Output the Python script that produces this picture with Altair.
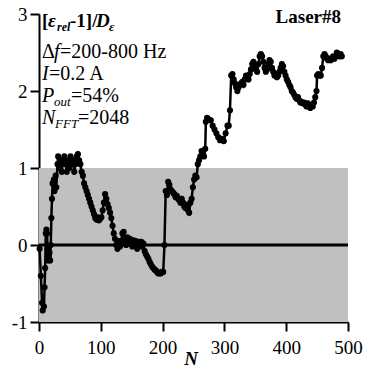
import altair as alt
import pandas as pd

N_vals = [1, 3, 5, 6, 8, 9, 10, 11, 12, 13, 14, 15, 16, 17, 18, 19, 20, 21, 22, 24, 25, 27, 28,
          30, 31, 33, 35, 37, 39, 41, 43, 45, 47, 49, 51, 53, 55, 57, 59, 61, 63, 65, 67, 69,
          71, 73, 75, 77, 79, 81, 83, 85, 87, 89, 91, 93, 95, 97, 99, 101, 103, 105, 107, 109,
          111, 113, 115, 117, 119, 121, 123, 125, 127, 129, 131, 133, 135, 137, 139, 141, 143,
          145, 147, 149, 151, 153, 155, 157, 159, 161, 163, 165, 167, 169, 171, 173, 175, 177,
          179, 181, 183, 185, 187, 189, 191, 193, 195, 197, 199, 201, 203,
          205, 207, 209, 211, 213, 215, 217, 219, 221, 223, 225, 227, 229, 231, 233, 235, 237,
          239, 241, 243, 245, 247, 249, 251, 253, 255, 257, 259, 261, 263, 265, 267, 269, 270,
          272, 275, 278, 281, 284, 287, 290, 293, 296, 299, 302, 305, 307, 309, 311, 313, 315,
          317, 319, 321, 323, 325, 327, 329, 331, 333, 335, 337, 339, 341, 343, 345, 347, 349,
          351, 353, 355, 357, 359, 361, 363, 365, 367, 369, 371, 373, 375, 377, 379, 381, 383,
          385, 387, 389, 391, 393, 395, 397, 399, 401, 403, 405, 407, 409, 411, 413, 415, 417,
          419, 421, 423, 425, 427, 429, 431, 433, 435, 437, 439, 441, 443, 445, 447, 449, 450,
          452, 454, 456, 458, 460, 462, 464, 466, 468, 470, 472, 474, 476, 478, 480, 482, 484,
          486, 488, 490]
E_vals = [-0.05, -0.4, -0.75, -0.85, -0.8, -0.55, -0.3, 0.15, 0.2, 0.15, -0.05, -0.2, -0.15,
          -0.1, -0.2, 0.0, 0.35, 0.6, 0.8, 0.85, 0.7, 0.9, 0.75,
          1.05, 1.15, 1.0, 1.1, 0.95, 1.1, 1.15, 1.05, 0.95, 1.1, 1.0, 1.15, 1.05, 1.1, 0.95,
          1.05, 1.15, 1.18, 1.1, 1.05, 0.95,
          0.9, 0.8, 0.75, 0.7, 0.65, 0.6, 0.55, 0.5, 0.45, 0.4, 0.35, 0.33, 0.36, 0.32, 0.34,
          0.36, 0.45, 0.55, 0.66, 0.6,
          0.53, 0.48, 0.42, 0.35, 0.25, 0.15, 0.08, 0.0, -0.05, 0.05, -0.02, 0.05, 0.15, 0.17,
          0.05, 0.0, 0.1,
          0.02, 0.08, 0.05, -0.02, 0.06, 0.03, 0.05, -0.05, 0.03, 0.04, 0.04, -0.02, 0.02,
          -0.08, -0.12, -0.15, -0.18,
          -0.22, -0.25, -0.28, -0.3, -0.32, -0.33, -0.35, -0.37, -0.36, -0.37, -0.35, -0.35, 0.0,
          0.7, 0.65, 0.82, 0.78, 0.72, 0.7, 0.68, 0.66, 0.62, 0.64, 0.6, 0.58, 0.55, 0.6, 0.55,
          0.5, 0.48,
          0.52, 0.45, 0.42, 0.55, 0.6, 0.75, 0.85, 0.9, 0.88, 1.05, 1.1, 1.15, 1.22, 1.2, 1.15,
          1.25, 1.6,
          1.65, 1.63, 1.62, 1.55, 1.5, 1.45, 1.4, 1.36, 1.38, 1.35, 1.45, 1.55, 1.55, 1.75, 2.2,
          2.22, 2.15,
          2.1, 2.05, 2.0, 2.05, 2.08, 2.1, 2.12, 2.08, 2.15, 2.2, 2.18, 2.15, 2.22, 2.28, 2.35,
          2.38, 2.32,
          2.28, 2.25, 2.35, 2.45, 2.48, 2.45, 2.38, 2.3, 2.25, 2.28, 2.35, 2.4, 2.38, 2.3, 2.25,
          2.2, 2.22,
          2.18, 2.2, 2.25, 2.3, 2.35, 2.32, 2.25, 2.2, 2.15, 2.12, 2.08, 2.05, 2.0, 1.98, 1.95,
          1.92, 1.9,
          1.92, 1.88, 1.85, 1.86, 1.84, 1.85, 1.82, 1.8, 1.84, 1.8, 1.78, 1.82, 1.8, 1.85, 1.92,
          2.0, 2.2,
          2.22, 2.2, 2.2, 2.3, 2.45, 2.48, 2.45, 2.42, 2.4, 2.42, 2.4, 2.42, 2.45, 2.42, 2.45,
          2.5, 2.48,
          2.45, 2.48, 2.45]

x_ticks = [0, 50, 100, 150, 200, 250, 300, 350, 400, 450, 500]
y_ticks = [-1, -0.5, 0, 0.5, 1, 1.5, 2, 2.5, 3]

FONT = "Liberation Serif"

df = pd.DataFrame({"N": N_vals, "E": E_vals})
band = pd.DataFrame({"x": [0], "x2": [500], "y": [-1], "y2": [1]})
zero = pd.DataFrame({"x": [0], "x2": [500], "y": [0]})

xscale = alt.Scale(domain=[0, 500], nice=False, zero=False)
yscale = alt.Scale(domain=[-1, 3], nice=False, zero=False)

xaxis = alt.Axis(values=x_ticks, title=None, grid=False,
                 labelExpr="datum.value % 100 === 0 ? '' + datum.value : ''",
                 tickSize={"condition": {"test": "datum.value % 100 === 0", "value": 9}, "value": 4},
                 tickWidth=2, tickColor="black", domainColor="black", domainWidth=2,
                 labelFont=FONT, labelFontSize=19, labelColor="black", labelPadding=7,
                 labelFlush=False, labelOverlap=False)
yaxis = alt.Axis(values=y_ticks, title=None, grid=False,
                 labelExpr="datum.value % 1 === 0 ? '' + datum.value : ''",
                 tickSize={"condition": {"test": "datum.value % 1 === 0", "value": 9}, "value": 5},
                 tickWidth=2, tickColor="black", domainColor="black", domainWidth=2,
                 labelFont=FONT, labelFontSize=19, labelColor="black", labelPadding=3,
                 labelFlush=False, labelOverlap=False)

rect = alt.Chart(band).mark_rect(color="#c0c0c0").encode(
    x=alt.X("x:Q", scale=xscale, axis=xaxis), x2="x2:Q",
    y=alt.Y("y:Q", scale=yscale, axis=yaxis), y2="y2:Q")

rule = alt.Chart(zero).mark_rule(color="black", strokeWidth=3).encode(
    x=alt.X("x:Q", scale=xscale), x2="x2:Q", y=alt.Y("y:Q", scale=yscale))

line = alt.Chart(df).mark_line(color="black", strokeWidth=2.5).encode(
    x=alt.X("N:Q", scale=xscale), y=alt.Y("E:Q", scale=yscale))
pts = alt.Chart(df).mark_circle(color="black", size=38, opacity=1).encode(
    x=alt.X("N:Q", scale=xscale), y=alt.Y("E:Q", scale=yscale))


def txt(s, x, y, size=20, weight="normal", style="normal", align="left"):
    return alt.Chart(pd.DataFrame({"t": [s]})).mark_text(
        font=FONT, fontSize=size, fontWeight=weight, fontStyle=style,
        align=align, baseline="alphabetic", color="black").encode(
        text="t:N", x=alt.value(x), y=alt.value(y))


texts = [
    txt("[", 3, 13, size=19, weight="bold"),
    txt("ε", 9, 13, size=19, weight="bold", style="italic"),
    txt("rel", 18, 17, size=12, weight="bold", style="italic"),
    txt("-1]/", 31, 13, size=19, weight="bold"),
    txt("D", 57, 13, size=19, weight="bold", style="italic"),
    txt("ε", 70, 17, size=13, weight="bold", style="italic"),
    txt("Δ", 3, 44),
    txt("f", 15, 44, style="italic"),
    txt("=200-800 Hz", 21, 44),
    txt("I", 3, 66, style="italic"),
    txt("=0.2 A", 10, 66),
    txt("P", 3, 88, style="italic"),
    txt("out", 15, 92, size=13, style="italic"),
    txt("=54%", 32, 88),
    txt("N", 3, 110, style="italic"),
    txt("FFT", 16, 114, size=13, style="italic"),
    txt("=2048", 39, 110),
    txt("Laser#8", 302, 9, size=19, weight="bold", align="right"),
    txt("N", 152, 351, size=19, weight="bold", style="italic", align="center"),
]

chart = alt.layer(rect, rule, line, pts, *texts).properties(
    width=309, height=308,
    autosize=alt.AutoSizeParams(type="none"),
    padding={"left": 39, "top": 14, "right": 18, "bottom": 46},
    background="white",
).configure_view(stroke=None)

chart.save("out.html", embed_options={"renderer": "svg", "actions": False})
